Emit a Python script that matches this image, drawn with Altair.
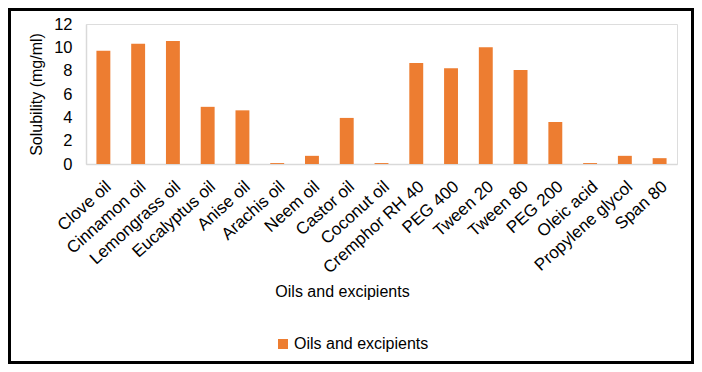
import altair as alt
import pandas as pd

categories = ["Clove oil", "Cinnamon oil", "Lemongrass oil", "Eucalyptus oil", "Anise oil",
              "Arachis oil", "Neem oil", "Castor oil", "Coconut oil", "Cremphor RH 40",
              "PEG 400", "Tween 20", "Tween 80", "PEG 200", "Oleic acid",
              "Propylene glycol", "Span 80"]
solubility = [9.7, 10.3, 10.55, 4.9, 4.6, 0.08, 0.7, 3.95, 0.08, 8.65,
              8.2, 10.0, 8.05, 3.6, 0.08, 0.7, 0.5]
series_name = "Oils and excipients"

df = pd.DataFrame({"item": categories, "value": solubility, "series": series_name})

FONT = "Liberation Sans"

bars = alt.Chart(df).mark_bar(color="#ED7D31").encode(
    x=alt.X("item:N", sort=categories,
            scale=alt.Scale(paddingInner=0.6, paddingOuter=0.3),
            axis=alt.Axis(title="Oils and excipients", labelAngle=-42,
                          labelFontSize=17, labelColor="#000", labelFont=FONT,
                          titleFontSize=16, titleColor="#000", titleFont=FONT,
                          titleFontWeight="normal",
                          titleX=256, titleY=132, titleBaseline="alphabetic",
                          titleAnchor="middle",
                          ticks=False, domainColor="#d9d9d9", domainWidth=1.5,
                          labelPadding=14)),
    y=alt.Y("value:Q", scale=alt.Scale(domain=[0, 12]),
            axis=alt.Axis(title="Solubility (mg/ml)", values=[0, 2, 4, 6, 8, 10, 12],
                          labelFontSize=16.5, labelColor="#000", labelFont=FONT,
                          titleFontSize=16, titleColor="#000", titleFont=FONT,
                          titleFontWeight="normal",
                          grid=False, ticks=False, domainColor="#d9d9d9",
                          domainWidth=1.5, labelPadding=14, titlePadding=9)),
    color=alt.Color("series:N", scale=alt.Scale(range=["#ED7D31"]),
                    legend=alt.Legend(title=None, orient="none", legendX=189, legendY=312,
                                      symbolType="square", symbolSize=100,
                                      symbolStrokeWidth=0,
                                      labelFontSize=16, labelColor="#000", labelFont=FONT,
                                      labelOffset=3, padding=0)),
)

frame = alt.Chart(alt.Data(values=[{"a": 1}])).mark_rect(
    fill=None, stroke="#000", strokeWidth=3
).encode(
    x=alt.value(-76.5), x2=alt.value(606.5), y=alt.value(-14.5), y2=alt.value(338.5)
)

chart = alt.layer(bars, frame).properties(
    width=591, height=140,
    autosize=alt.AutoSizeParams(type="none"),
    padding={"left": 78, "top": 16, "right": 17, "bottom": 200},
).configure_view(stroke=None).configure(background="white")

chart.save("out.html", embed_options={"renderer": "svg", "actions": False})
